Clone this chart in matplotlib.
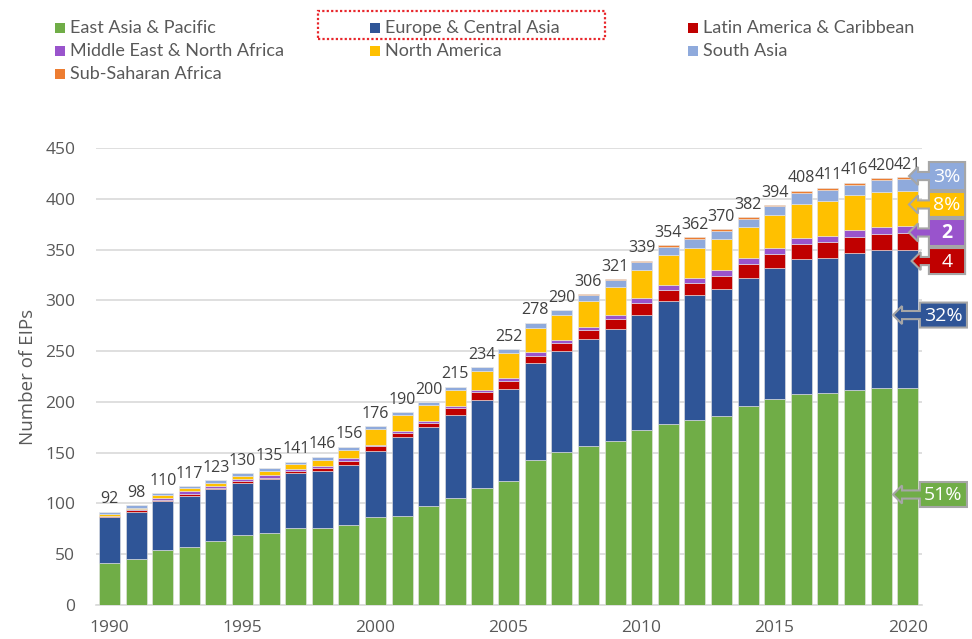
"""Stacked bars of EIP counts by region, 1990-2020, with share callouts for 2020."""
import matplotlib
matplotlib.use("Agg")
import matplotlib.pyplot as plt
from matplotlib.patches import Rectangle, Polygon
import numpy as np

years = list(range(1990, 2021))
regions = ["East Asia & Pacific", "Europe & Central Asia", "Latin America & Caribbean",
           "Middle East & North Africa", "North America", "South Asia", "Sub-Saharan Africa"]
colors = ["#70ad47", "#2f5597", "#c00000", "#9954cc", "#ffc000", "#8faadc", "#ed7d31"]

east_asia = [41, 45, 54, 57, 63, 69, 71, 76, 76, 79, 87, 88, 97, 105, 115, 122, 143, 151,
             157, 161, 172, 178, 182, 186, 196, 203, 208, 209, 212, 214, 214]
europe = [46, 47, 48, 50, 51, 51, 53, 54, 56, 59, 65, 77, 78, 82, 87, 91, 95, 99,
          105, 111, 114, 121, 123, 125, 126, 129, 133, 133, 135, 136, 136]
latam = [1, 2, 1, 2, 1, 2, 1, 2, 3, 4, 5, 4, 4, 7, 8, 8, 7, 8,
         9, 10, 11, 11, 12, 13, 14, 14, 14, 15, 15, 15, 16]
mena = [0, 1, 2, 3, 2, 2, 3, 2, 2, 3, 1, 2, 2, 2, 2, 3, 4, 3,
        3, 4, 5, 5, 5, 6, 6, 6, 6, 6, 7, 7, 7]
north_america = [2, 1, 3, 3, 3, 3, 4, 5, 6, 8, 15, 16, 16, 16, 18, 24, 24, 25,
                 25, 27, 28, 30, 30, 30, 30, 32, 34, 35, 35, 35, 35]
south_asia = [2, 2, 2, 2, 3, 3, 3, 2, 3, 3, 3, 3, 3, 3, 4, 4, 5, 4,
              6, 7, 8, 8, 8, 8, 8, 9, 11, 11, 10, 11, 11]
ssa = [0, 0, 0, 0, 0, 0, 0, 0, 0, 0, 0, 0, 0, 0, 0, 0, 0, 0,
       1, 1, 1, 1, 2, 2, 2, 1, 2, 2, 2, 2, 2]
series = [east_asia, europe, latam, mena, north_america, south_asia, ssa]

W, H = 972, 639
fig = plt.figure(figsize=(W / 100, H / 100), dpi=100)
plt.rcParams["font.family"] = ["Lato", "DejaVu Sans"]
GRAY = "#595959"
NUMFONT = ["Open Sans", "DejaVu Sans"]


def px(x, y):
    return x / W, 1 - y / H


ax = fig.add_axes([96 / W, 34 / H, 826 / W, 457 / H])
bottom = np.zeros(len(years))
for vals, col in zip(series, colors):
    ax.bar(years, vals, width=0.79, bottom=bottom, color=col,
           edgecolor="#e6e6e6", linewidth=0.4, zorder=3)
    bottom += np.array(vals)
totals = bottom.astype(int)

for yr, t in zip(years, totals):
    ax.annotate(str(t), (yr, t), xytext=(0, 6), textcoords="offset points",
                ha="center", va="baseline", fontsize=11.5, color="#404040",
                family=NUMFONT)

ax.set_xlim(1989.49, 2020.54)
ax.set_ylim(0, 450)
ax.set_yticks(range(0, 451, 50))
ax.set_xticks(range(1990, 2021, 5))
ax.grid(axis="y", color="#d9d9d9", linewidth=1.2, zorder=0)
ax.tick_params(axis="both", length=0, labelsize=12.5, colors=GRAY)
ax.tick_params(axis="y", pad=15)
ax.tick_params(axis="x", pad=11)
for lab in ax.get_xticklabels() + ax.get_yticklabels():
    lab.set_family(NUMFONT)
for s in ["top", "right", "left"]:
    ax.spines[s].set_visible(False)
ax.spines["bottom"].set_color("#d9d9d9")
ax.spines["bottom"].set_linewidth(1.2)
ax.set_ylabel("Number of EIPs", fontsize=13.5, color=GRAY, family=NUMFONT)
ax.yaxis.set_label_coords(-0.072, 0.5)

# share callouts for 2020: (series index, centre y, box height, tip x, box left, box right, fmt, bold)
last = -1
callouts = [
    (5, 422.4, 27.6, 2020.05, 2020.80, 2022.16, "{}%", False),
    (4, 394.4, 24.6, 2020.05, 2020.80, 2022.16, "{}%", False),
    (3, 366.8, 26.6, 2020.05, 2020.80, 2022.16, "{}", True),
    (2, 338.7, 25.6, 2020.15, 2020.80, 2022.16, "{}", False),
    (1, 285.5, 24.6, 2019.45, 2020.46, 2022.23, "{}%", False),
    (0, 108.8, 24.6, 2019.45, 2020.46, 2022.23, "{}%", False),
]
head_len, head_h, shaft_h = 0.34, 8.9, 4.0
for idx, yc, bh, xt, xl, xr, fmt, bold in callouts:
    share = round(100 * series[idx][last] / totals[last])
    pts = [(xt, yc), (xt + head_len, yc + head_h), (xt + head_len, yc + shaft_h),
           (xl, yc + shaft_h), (xl, yc + bh / 2), (xr, yc + bh / 2), (xr, yc - bh / 2),
           (xl, yc - bh / 2), (xl, yc - shaft_h), (xt + head_len, yc - shaft_h),
           (xt + head_len, yc - head_h)]
    ax.add_patch(Polygon(pts, closed=True, facecolor=colors[idx], edgecolor="#a6a6a6",
                         linewidth=1.5, clip_on=False, zorder=6))
    ax.text((xl + xr) / 2, yc - 0.5, fmt.format(share), ha="center", va="center",
            fontsize=14, color="white", fontweight="bold" if bold else "normal",
            family=NUMFONT, zorder=7, clip_on=False)

# legend laid out in three columns at the top
legend_pos = [(55, 28), (370, 28), (688, 28), (55, 51), (370, 51), (688, 51), (55, 74)]
for name, col, (lx, ly) in zip(regions, colors, legend_pos):
    fx, fy = px(lx, ly + 5)
    fig.add_artist(Rectangle((fx, fy), 10 / W, 10 / H, transform=fig.transFigure,
                             facecolor=col, edgecolor="none"))
    tx, ty = px(lx + 15, ly)
    fig.text(tx, ty, name, ha="left", va="center", fontsize=13, color=GRAY)

rx, ry = px(318, 39)
fig.add_artist(Rectangle((rx, ry), 287 / W, 28 / H, transform=fig.transFigure,
                         facecolor="none", edgecolor="#e8262b", linewidth=1.6,
                         linestyle=(0, (1, 1))))

fig.savefig("out.png", dpi=100)
